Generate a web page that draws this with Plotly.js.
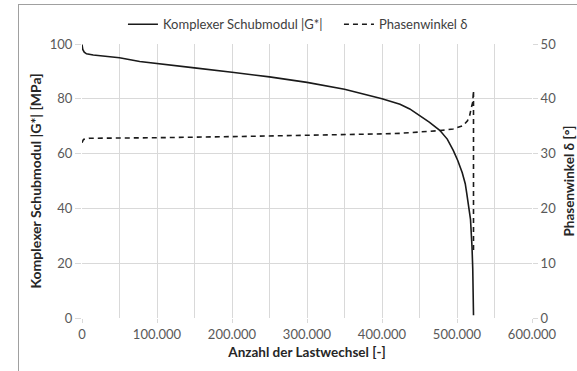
<!DOCTYPE html>
<html>
<head>
<meta charset="utf-8">
<script src="https://cdn.plot.ly/plotly-3.0.1.min.js"></script>
<style>
html,body{margin:0;padding:0;background:#fff;}
#wrap{position:relative;width:577px;height:371px;overflow:hidden;}
#chart{position:absolute;left:0;top:0;width:577px;height:371px;}
#frame{position:absolute;left:18px;top:4px;width:600px;height:400px;border-left:1px solid #a0a0a0;border-top:1px solid #a0a0a0;pointer-events:none;}
</style>
</head>
<body>
<div id="wrap"><div id="chart"></div><div id="frame"></div></div>
<script>
// Komplexer Schubmodul |G*| [MPa]
const gX = [0, 1000, 3000, 6000, 15000, 30000, 50000, 77000, 100000, 150000, 200000, 250000, 300000, 350000, 400000, 412000, 424000, 437000, 450000, 463000, 477000, 487000, 495000, 501000, 507000, 511000, 513000, 516000, 518000, 520000, 521000, 522000];
const gY = [99.8, 98, 97, 96.4, 96, 95.6, 95, 93.6, 92.8, 91.3, 89.7, 88, 86, 83.5, 80, 79.1, 78, 76.3, 74, 71.5, 68.5, 65.3, 61.2, 57.5, 53, 49, 45.5, 40, 36, 26, 18, 1];
// Phasenwinkel δ [°]
const pX = [0, 2000, 10000, 50000, 100000, 200000, 300000, 400000, 424000, 450000, 477000, 495000, 508000, 514000, 517000, 519000, 521000, 521500, 522000, 522000];
const pY = [32, 32.6, 32.8, 32.8, 32.9, 33.1, 33.3, 33.6, 33.7, 33.9, 34.2, 34.5, 35.1, 36, 37, 38.3, 39.4, 40.5, 41.5, 12.4];

const names = ['Komplexer Schubmodul |G*|', 'Phasenwinkel δ'];
const leftTitle = 'Komplexer Schubmodul |G*| [MPa]';
const rightTitle = 'Phasenwinkel δ [°]';
const xTitle = 'Anzahl der Lastwechsel [-]';

const FONT = 'Lato, "Open Sans", sans-serif';
const traces = [
  {x: gX, y: gY, name: names[0], type: 'scatter', mode: 'lines', line: {color: '#1a1a1a', width: 1.6}, yaxis: 'y'},
  {x: pX, y: pY, name: names[1], type: 'scatter', mode: 'lines', line: {color: '#1a1a1a', width: 1.6, dash: '5px,4px'}, yaxis: 'y2'}
];
const layout = {
  width: 577, height: 371,
  margin: {l: 82, r: 45, t: 44, b: 53},
  paper_bgcolor: '#fff', plot_bgcolor: '#fff',
  separators: ',.',
  font: {family: FONT, size: 13, color: '#595959'},
  showlegend: true,
  legend: {orientation: 'h', x: 0.091, xanchor: 'left', yref: 'container', y: 0.975, yanchor: 'top',
           entrywidth: 171, entrywidthmode: 'pixels',
           font: {size: 13, color: '#404040'}, bgcolor: 'rgba(0,0,0,0)'},
  xaxis: {
    range: [0, 600000], dtick: 100000, tick0: 0, tickformat: ',d',
    showgrid: true, gridcolor: '#d9d9d9', gridwidth: 1, zeroline: false, showline: false,
    ticks: 'outside', ticklen: 4, tickcolor: '#d9d9d9',
    minor: {dtick: 50000, showgrid: true, gridcolor: '#d9d9d9', gridwidth: 1},
    title: {text: xTitle, font: {size: 13.5, color: '#262626', family: FONT, weight: 'bold'}, standoff: 6},
    tickfont: {size: 13, color: '#595959'}
  },
  yaxis: {
    range: [0, 100], dtick: 20, showgrid: true, gridcolor: '#d9d9d9', zeroline: false, showline: false,
    ticks: 'outside', ticklen: 6, tickcolor: '#d9d9d9',
    title: {text: leftTitle, font: {size: 14, color: '#262626', family: FONT, weight: 'bold'}, standoff: 4},
    tickfont: {size: 13, color: '#595959'}
  },
  yaxis2: {
    range: [0, 50], dtick: 10, overlaying: 'y', side: 'right', showgrid: false, zeroline: false, showline: false,
    ticks: 'outside', ticklen: 5, tickcolor: '#d9d9d9',
    title: {text: rightTitle, font: {size: 13.5, color: '#262626', family: FONT, weight: 'bold'}, standoff: 11},
    tickfont: {size: 13, color: '#595959'}
  }
};
Plotly.newPlot('chart', traces, layout, {displayModeBar: false, staticPlot: true});
</script>
</body>
</html>
